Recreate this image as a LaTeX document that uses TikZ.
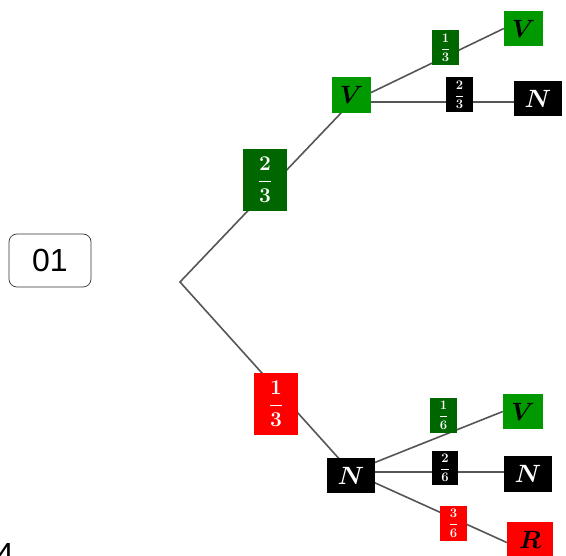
\RequirePackage{fix-cm}
\documentclass[tikz,border=0pt]{standalone}
\usepackage{amsmath,bm}
\usepackage[no-math]{fontspec}
\newfontfamily\arialfont{Liberation Sans}
\usetikzlibrary{backgrounds}
\definecolor{dgreen}{RGB}{0,102,0}
\definecolor{lgreen}{RGB}{0,153,0}
\definecolor{pred}{RGB}{255,0,0}
\definecolor{edgegray}{RGB}{85,85,85}
\tikzset{
  box/.style={rectangle, inner sep=0pt, anchor=center},
  bigletter/.style={box, font=\fontsize{25}{30}\selectfont\boldmath},
  bigfrac/.style={box, text=white, minimum width=44pt, minimum height=62pt, font=\fontsize{21}{25}\selectfont\boldmath},
  smallfrac/.style={box, text=white, minimum width=27pt, minimum height=35pt, font=\fontsize{13}{16}\selectfont\boldmath},
  branch/.style={draw=edgegray, line width=1.6pt},
  tagbox/.style={draw=black!80, line width=0.7pt, rounded corners=8pt, minimum width=82pt, minimum height=53pt, inner sep=0pt, font=\fontsize{32}{38}\selectfont\arialfont}
}
\begin{document}
\begin{tikzpicture}[x=1pt,y=-1pt]
\useasboundingbox (0,0) rectangle (566,556);
% tag
\node[tagbox] (tag) at (50,260.5) {01};
\node[anchor=base west, inner sep=0pt, font=\fontsize{32}{38}\selectfont\arialfont] (frag) at (-4,566) {4};
% tree nodes
\coordinate (root) at (180,282);
\node[bigletter, fill=lgreen, minimum width=39pt, minimum height=36pt] (V1) at (351.5,95) {$V$};
\node[bigletter, fill=black, text=white, minimum width=48pt, minimum height=35pt] (N1) at (351,476) {$N$};
\coordinate (hubV) at (351.5,102);
\coordinate (hubN) at (351,472);
\node[bigletter, fill=lgreen, minimum width=39pt, minimum height=35pt] (V2) at (523.5,28.5) {$V$};
\node[bigletter, fill=black, text=white, minimum width=48pt, minimum height=35pt] (N2) at (538,99) {$N$};
\node[bigletter, fill=lgreen, minimum width=40pt, minimum height=35pt] (V3) at (523,411.5) {$V$};
\node[bigletter, fill=black, text=white, minimum width=48pt, minimum height=36pt] (N3) at (528,474) {$N$};
\node[bigletter, fill=pred, minimum width=46pt, minimum height=35pt] (R1) at (530,539.5) {$R$};
% probability labels
\node[bigfrac, fill=dgreen] (p23) at (265,180) {$\dfrac{2}{3}$};
\node[bigfrac, fill=pred] (p13) at (276,404) {$\dfrac{1}{3}$};
\node[smallfrac, fill=dgreen] (q13) at (445.5,48) {$\dfrac{1}{3}$};
\node[smallfrac, fill=black] (q23) at (459.5,95) {$\dfrac{2}{3}$};
\node[smallfrac, fill=dgreen] (r16) at (443.5,415.5) {$\dfrac{1}{6}$};
\node[smallfrac, fill=black, minimum width=26pt, minimum height=34pt] (r26) at (445,468) {$\dfrac{2}{6}$};
\node[smallfrac, fill=pred] (r36) at (453.5,523.5) {$\dfrac{3}{6}$};
% connectors
\begin{pgfonlayer}{background}
\draw[branch] (hubV) -- (root) -- (hubN);
\draw[branch] (hubV) -- (V2.west);
\draw[branch] (hubV) -- (hubV -| N2.west);
\draw[branch] (hubN) -- (V3.west);
\draw[branch] (hubN) -- (hubN -| N3.west);
\draw[branch] (hubN) -- ([yshift=-3pt]R1.west);
\end{pgfonlayer}
\end{tikzpicture}
\end{document}
